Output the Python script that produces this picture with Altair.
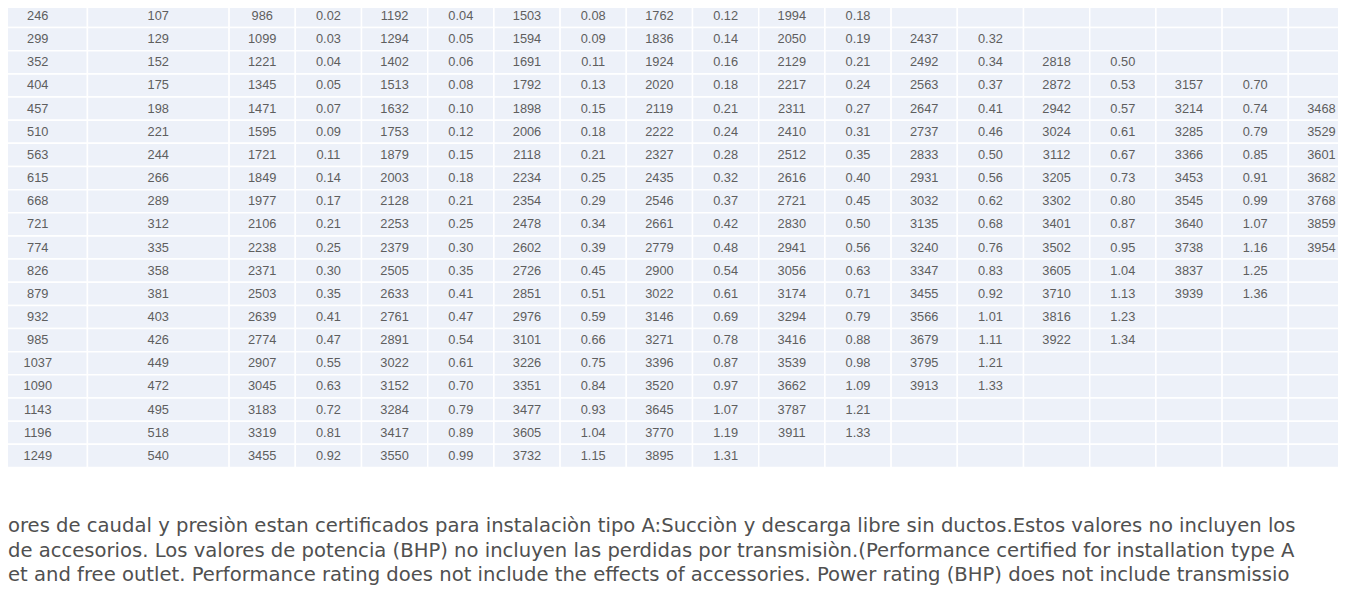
import altair as alt
import pandas as pd

N = None
flow = [246, 299, 352, 404, 457, 510, 563, 615, 668, 721, 774, 826, 879, 932, 985, 1037, 1090, 1143, 1196, 1249]
col_b = [107, 129, 152, 175, 198, 221, 244, 266, 289, 312, 335, 358, 381, 403, 426, 449, 472, 495, 518, 540]

rpm_1 = [986, 1099, 1221, 1345, 1471, 1595, 1721, 1849, 1977, 2106, 2238, 2371, 2503, 2639, 2774, 2907, 3045, 3183, 3319, 3455]
bhp_1 = [0.02, 0.03, 0.04, 0.05, 0.07, 0.09, 0.11, 0.14, 0.17, 0.21, 0.25, 0.30, 0.35, 0.41, 0.47, 0.55, 0.63, 0.72, 0.81, 0.92]
rpm_2 = [1192, 1294, 1402, 1513, 1632, 1753, 1879, 2003, 2128, 2253, 2379, 2505, 2633, 2761, 2891, 3022, 3152, 3284, 3417, 3550]
bhp_2 = [0.04, 0.05, 0.06, 0.08, 0.10, 0.12, 0.15, 0.18, 0.21, 0.25, 0.30, 0.35, 0.41, 0.47, 0.54, 0.61, 0.70, 0.79, 0.89, 0.99]
rpm_3 = [1503, 1594, 1691, 1792, 1898, 2006, 2118, 2234, 2354, 2478, 2602, 2726, 2851, 2976, 3101, 3226, 3351, 3477, 3605, 3732]
bhp_3 = [0.08, 0.09, 0.11, 0.13, 0.15, 0.18, 0.21, 0.25, 0.29, 0.34, 0.39, 0.45, 0.51, 0.59, 0.66, 0.75, 0.84, 0.93, 1.04, 1.15]
rpm_4 = [1762, 1836, 1924, 2020, 2119, 2222, 2327, 2435, 2546, 2661, 2779, 2900, 3022, 3146, 3271, 3396, 3520, 3645, 3770, 3895]
bhp_4 = [0.12, 0.14, 0.16, 0.18, 0.21, 0.24, 0.28, 0.32, 0.37, 0.42, 0.48, 0.54, 0.61, 0.69, 0.78, 0.87, 0.97, 1.07, 1.19, 1.31]
rpm_5 = [1994, 2050, 2129, 2217, 2311, 2410, 2512, 2616, 2721, 2830, 2941, 3056, 3174, 3294, 3416, 3539, 3662, 3787, 3911, N]
bhp_5 = [0.18, 0.19, 0.21, 0.24, 0.27, 0.31, 0.35, 0.40, 0.45, 0.50, 0.56, 0.63, 0.71, 0.79, 0.88, 0.98, 1.09, 1.21, 1.33, N]
rpm_6 = [N, 2437, 2492, 2563, 2647, 2737, 2833, 2931, 3032, 3135, 3240, 3347, 3455, 3566, 3679, 3795, 3913, N, N, N]
bhp_6 = [N, 0.32, 0.34, 0.37, 0.41, 0.46, 0.50, 0.56, 0.62, 0.68, 0.76, 0.83, 0.92, 1.01, 1.11, 1.21, 1.33, N, N, N]
rpm_7 = [N, N, 2818, 2872, 2942, 3024, 3112, 3205, 3302, 3401, 3502, 3605, 3710, 3816, 3922, N, N, N, N, N]
bhp_7 = [N, N, 0.50, 0.53, 0.57, 0.61, 0.67, 0.73, 0.80, 0.87, 0.95, 1.04, 1.13, 1.23, 1.34, N, N, N, N, N]
rpm_8 = [N, N, N, 3157, 3214, 3285, 3366, 3453, 3545, 3640, 3738, 3837, 3939, N, N, N, N, N, N, N]
bhp_8 = [N, N, N, 0.70, 0.74, 0.79, 0.85, 0.91, 0.99, 1.07, 1.16, 1.25, 1.36, N, N, N, N, N, N, N]
rpm_9 = [N, N, N, N, 3468, 3529, 3601, 3682, 3768, 3859, 3954, N, N, N, N, N, N, N, N, N]
bhp_9 = [N] * 20

note_lines = [
    "ores de caudal y presiòn estan certificados para instalaciòn tipo A:Succiòn y descarga libre sin ductos.Estos valores no incluyen los",
    " de accesorios. Los valores de potencia (BHP) no incluyen las perdidas por transmisiòn.(Performance certified for  installation type A",
    "et and free outlet. Performance rating does not  include the effects of accessories. Power rating (BHP) does not include transmissio",
]

columns = [(flow, "int"), (col_b, "int"),
           (rpm_1, "int"), (bhp_1, "dec"), (rpm_2, "int"), (bhp_2, "dec"),
           (rpm_3, "int"), (bhp_3, "dec"), (rpm_4, "int"), (bhp_4, "dec"),
           (rpm_5, "int"), (bhp_5, "dec"), (rpm_6, "int"), (bhp_6, "dec"),
           (rpm_7, "int"), (bhp_7, "dec"), (rpm_8, "int"), (bhp_8, "dec"),
           (rpm_9, "int"), (bhp_9, "dec")]

# layout: column widths in units of one data column
widths = [1.5, 2.14] + [1.0] * (len(columns) - 2)
edges = [0.0]
for w in widths:
    edges.append(edges[-1] + w)

rows = []
for ci, (vals, kind) in enumerate(columns):
    for ri, v in enumerate(vals):
        if v is None:
            txt = ""
        elif kind == "int":
            txt = str(v)
        else:
            txt = f"{v:.2f}"
        rows.append({"c0": edges[ci], "c1": edges[ci + 1], "cm": (edges[ci] + edges[ci + 1]) / 2,
                     "r": ri, "r0": ri - 0.5, "r1": ri + 0.5, "txt": txt})
df = pd.DataFrame(rows)

W, H = 1330, 600
unit_px = 66.2
x_lo = 0.3
x_scale = alt.Scale(domain=[x_lo, x_lo + W / unit_px], range=[0, W], nice=False, zero=False)
row_px = 23.15
y0 = 8.0
y_scale = alt.Scale(domain=[-y0 / row_px, (H - y0) / row_px], range=[0, H], nice=False, zero=False)

cells = alt.Chart(df).mark_rect(fill="#edf1f9", stroke="#ffffff", strokeWidth=1.5).encode(
    x=alt.X("c0:Q", scale=x_scale, axis=None),
    x2="c1:Q",
    y=alt.Y("r0:Q", scale=y_scale, axis=None),
    y2="r1:Q",
)

labels = alt.Chart(df[df.txt != ""]).mark_text(
    font="Liberation Sans", fontSize=12.8, color="#5e5e5e", align="center", baseline="middle"
).encode(
    x=alt.X("cm:Q", scale=x_scale, axis=None),
    y=alt.Y("r:Q", scale=y_scale, axis=None),
    text="txt:N",
)

notes_df = pd.DataFrame({"line": [22.05, 23.1, 24.15], "txt": note_lines, "x": [x_lo] * 3})
notes = alt.Chart(notes_df).mark_text(
    font="DejaVu Sans", fontSize=19.6, color="#505050", align="left", baseline="middle"
).encode(
    x=alt.X("x:Q", scale=x_scale, axis=None),
    y=alt.Y("line:Q", scale=y_scale, axis=None),
    text="txt:N",
)

chart = alt.layer(cells, labels, notes).properties(
    width=W, height=H, padding=0, autosize=alt.AutoSizeParams(type="none"), background="#ffffff"
).configure_view(stroke=None)

chart.save("out.html", embed_options={"renderer": "svg", "actions": False})
